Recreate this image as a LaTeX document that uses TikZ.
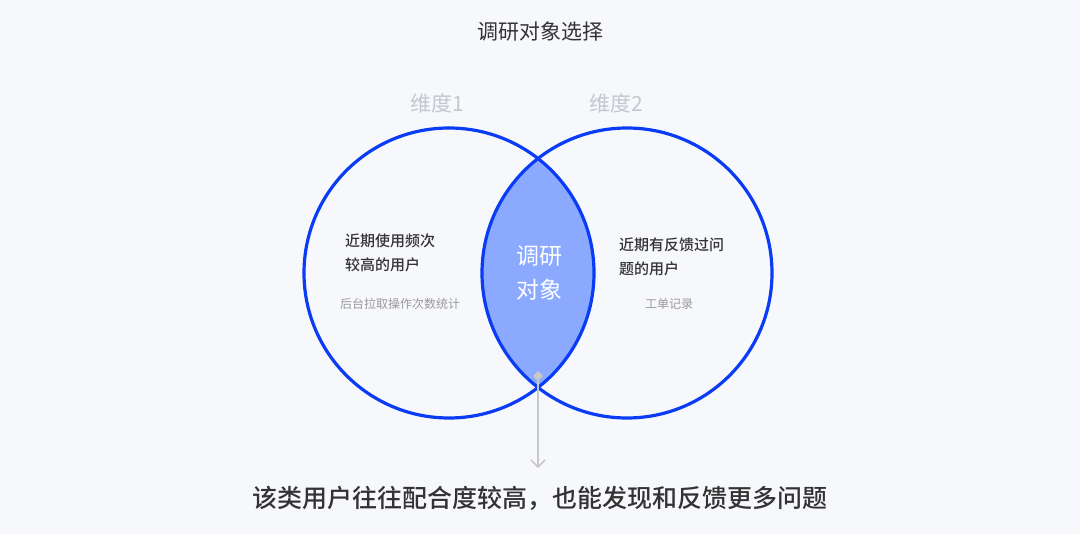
\documentclass[tikz,border=0pt]{standalone}
\usepackage{fontspec}
\newfontfamily\cjk{Noto Sans CJK SC}
\newfontfamily\cjkb{Noto Sans CJK SC Medium}
\definecolor{bg}{HTML}{F7F8FC}
\definecolor{ring}{HTML}{0A3CF5}
\definecolor{lens}{HTML}{8AA9FF}
\definecolor{dark}{HTML}{333333}
\definecolor{dim}{HTML}{C5C7CE}
\definecolor{sub}{HTML}{999999}
\definecolor{arr}{HTML}{C8C8C8}
\tikzset{txt/.style={font=\cjk,inner sep=0pt}}
\begin{document}
\begin{tikzpicture}[x=1pt,y=-1pt]
\fill[bg] (0,0) rectangle (1080,534);
\useasboundingbox (0,0) rectangle (1080,534);
\node[txt,text=dark,font=\cjk\fontsize{21}{25}\selectfont] (title) at (540,32) {调研对象选择};
\node[txt,text=dim,font=\cjk\fontsize{21}{25}\selectfont] (d1) at (437,103) {维度1};
\node[txt,text=dim,font=\cjk\fontsize{21}{25}\selectfont] (d2) at (616,103) {维度2};
\begin{scope}
\clip (449,273) circle (145);
\fill[lens] (627,273) circle (145);
\end{scope}
\draw[ring,line width=3.2pt] (449,273) circle (145);
\draw[ring,line width=3.2pt] (627,273) circle (145);
\node[txt,text=white,align=center,font=\cjk\fontsize{23}{34}\selectfont] (c) at (539,273) {调研\\对象};
\node[txt,text=dark,align=left,anchor=north west,font=\cjkb\fontsize{15}{24}\selectfont] (l) at (345,234) {近期使用频次\\较高的用户};
\node[txt,text=sub,font=\cjk\fontsize{12}{14}\selectfont] (ls) at (400,304) {后台拉取操作次数统计};
\node[txt,text=dark,align=left,anchor=north west,font=\cjkb\fontsize{15}{24}\selectfont] (r) at (619,238) {近期有反馈过问\\题的用户};
\node[txt,text=sub,font=\cjk\fontsize{12}{14}\selectfont] (rs) at (669,304) {工单记录};
\coordinate (top) at (538,376);
\coordinate (end) at (538,467);
\fill[arr] (538,371) -- (543,376) -- (538,381) -- (533,376) -- cycle;
\draw[arr,line width=1.6pt] (top) -- (end);
\draw[arr,line width=1.6pt] (531,460) -- (end) -- (545,460);
\node[txt,text=dark,font=\cjkb\fontsize{25}{30}\selectfont] (bot) at (540,498) {该类用户往往配合度较高，也能发现和反馈更多问题};
\end{tikzpicture}
\end{document}
